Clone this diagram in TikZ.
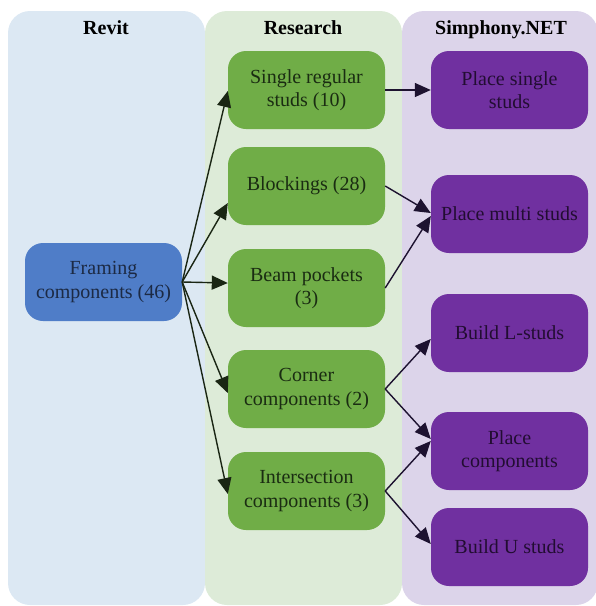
\documentclass[tikz,border=0pt]{standalone}
\usepackage{fontspec}
\setmainfont{Liberation Serif}
\usetikzlibrary{arrows.meta,calc}
\definecolor{revitbg}{HTML}{DCE8F3}
\definecolor{resbg}{HTML}{DDEBD8}
\definecolor{simbg}{HTML}{DCD4EA}
\definecolor{bluebox}{HTML}{4F7DC8}
\definecolor{greenbox}{HTML}{70AD47}
\definecolor{purplebox}{HTML}{7030A0}
\definecolor{bluetext}{HTML}{1C2A44}
\definecolor{greentext}{HTML}{1A2C12}
\definecolor{purpletext}{HTML}{220D32}
\definecolor{arrowL}{HTML}{1A2614}
\definecolor{arrowR}{HTML}{1D1230}
\begin{document}
\begin{tikzpicture}[x=1pt,y=-1pt,
  colbox/.style={rounded corners=22pt, minimum width=197pt, minimum height=594pt, inner sep=0pt, draw=none},
  coltitle/.style={font=\fontsize{20}{24}\selectfont\bfseries, anchor=base, inner sep=0pt},
  boxbase/.style={rounded corners=18pt, minimum width=157pt, minimum height=78pt, inner sep=0pt, align=center, font=\fontsize{20}{23.5}\selectfont},
  bluenode/.style={boxbase, fill=bluebox, text=bluetext},
  greennode/.style={boxbase, fill=greenbox, text=greentext},
  purplenode/.style={boxbase, fill=purplebox, text=purpletext},
  arrL/.style={draw=arrowL, line width=1.4pt, -{Triangle[length=16pt,width=14pt]}, arrowL},
  arrR/.style={draw=arrowR, line width=1.4pt, -{Triangle[length=16pt,width=14pt]}, arrowR}
]
\useasboundingbox (0,0) rectangle (596,606);
% columns
\node[colbox, fill=revitbg] (colA) at (106.5,308) {};
\node[colbox, fill=resbg] (colB) at (303.5,308) {};
\node[colbox, fill=simbg, minimum width=196pt] (colC) at (500,308) {};
\node[coltitle] (tA) at (106,34) {Revit};
\node[coltitle] (tB) at (303,34) {Research};
\node[coltitle] (tC) at (501,34) {Simphony.NET};
% nodes
\node[bluenode] (fc) at (103.5,282) {Framing\\components (46)};
\node[greennode] (srs) at (306.5,90) {Single regular\\studs (10)};
\node[greennode] (blk) at (306.5,186) {Blockings (28)};
\node[greennode] (bp) at (306.5,288) {Beam pockets\\(3)};
\node[greennode] (cc) at (306.5,389) {Corner\\components (2)};
\node[greennode] (ic) at (306.5,491) {Intersection\\components (3)};
\node[purplenode] (pss) at (509.5,90) {Place single\\studs};
\node[purplenode] (pms) at (509.5,214) {Place multi studs};
\node[purplenode] (bls) at (509.5,333) {Build L-studs};
\node[purplenode] (pc) at (509.5,451) {Place\\components};
\node[purplenode] (bus) at (509.5,547) {Build U studs};
% arrows left
\draw[arrL] (fc.east) -- ([yshift=-1pt]srs.west);
\draw[arrL] (fc.east) -- ([yshift=-17pt]blk.west);
\draw[arrL] (fc.east) -- ([yshift=5pt]bp.west);
\draw[arrL] (fc.east) -- ([yshift=-4pt]cc.west);
\draw[arrL] (fc.east) -- ([yshift=-3pt]ic.west);
% arrows right
\draw[arrR] (srs.east) -- (pss.west);
\draw[arrR] (blk.east) -- ([yshift=1pt]pms.west);
\draw[arrR] (bp.east) -- ([yshift=-2pt]pms.west);
\draw[arrR] (cc.east) -- ([yshift=-6pt]bls.west);
\draw[arrR] (cc.east) -- ([yshift=12pt]pc.west);
\draw[arrR] (ic.east) -- ([yshift=10pt]pc.west);
\draw[arrR] (ic.east) -- ([yshift=3pt]bus.west);
\end{tikzpicture}
\end{document}
